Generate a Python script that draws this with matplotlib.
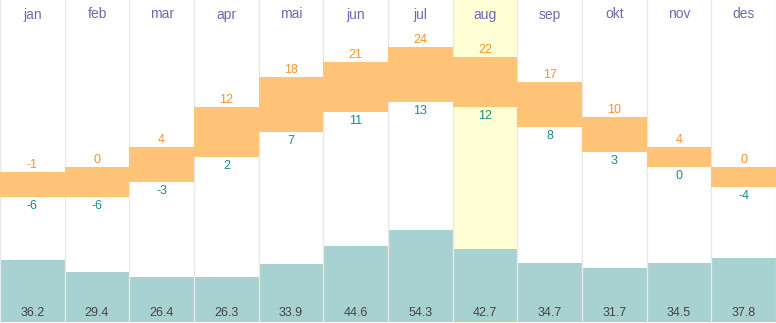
import matplotlib
matplotlib.use("Agg")
import matplotlib.pyplot as plt
import numpy as np

months = ["jan", "feb", "mar", "apr", "mai", "jun", "jul", "aug", "sep", "okt", "nov", "des"]
t_max = [-1, 0, 4, 12, 18, 21, 24, 22, 17, 10, 4, 0]
t_min = [-6, -6, -3, 2, 7, 11, 13, 12, 8, 3, 0, -4]
precip = [36.2, 29.4, 26.4, 26.3, 33.9, 44.6, 54.3, 42.7, 34.7, 31.7, 34.5, 37.8]
highlight = "aug"

plt.rcParams['font.family'] = ['Liberation Sans', 'DejaVu Sans']

fig = plt.figure(figsize=(7.76, 3.23), dpi=100)
ax = fig.add_axes([0, 0, 1, 1])
axp = ax.twinx()
ax.set_zorder(axp.get_zorder() + 1)
ax.patch.set_visible(False)

n = len(months)
x = np.arange(n)

# temperature axis: 5 px per degree, T=0 at y=167 from top
ax.set_ylim(-31.2, 33.4)
ax.set_xlim(-0.5, n - 0.5)
axp.set_xlim(-0.5, n - 0.5)
axp.set_ylim(-0.6, 189.4)

# highlight column
hi = months.index(highlight)
axp.axvspan(hi - 0.5, hi + 0.5, color="#ffffd6", zorder=0, lw=0)

# precipitation bars
axp.bar(x, precip, width=1.0, bottom=0, color="#a8d1d1", lw=0, zorder=1)

# grid lines
for b in np.arange(-0.5, n + 0.5, 1.0):
    axp.axvline(b, color="#e8e8e8", lw=1.0, zorder=2)

# temperature bars
heights = [mx - mn for mx, mn in zip(t_max, t_min)]
ax.bar(x, heights, width=1.0, bottom=t_min, color="#ffc477", lw=0, zorder=3)

for i in range(n):
    ax.annotate(str(t_max[i]), (x[i], t_max[i]), xytext=(0, 0.5), textcoords="offset points",
                ha="center", va="bottom", color="#f5922f", fontsize=9)
    ax.annotate(str(t_min[i]), (x[i], t_min[i]), xytext=(0, -2), textcoords="offset points",
                ha="center", va="top", color="#1a8c8c", fontsize=9)
    ax.text(x[i], 1 - 14.5 / 323, months[i], transform=ax.get_xaxis_transform(),
            ha="center", va="center", color="#6b6bb0", fontsize=10)
    ax.text(x[i], 1 - 313 / 323, f"{precip[i]:.1f}", transform=ax.get_xaxis_transform(),
            ha="center", va="center", color="#444444", fontsize=9)

for a in (ax, axp):
    a.set_xticks([])
    a.set_yticks([])
    for s in a.spines.values():
        s.set_visible(False)

fig.savefig("out.png", dpi=100)
